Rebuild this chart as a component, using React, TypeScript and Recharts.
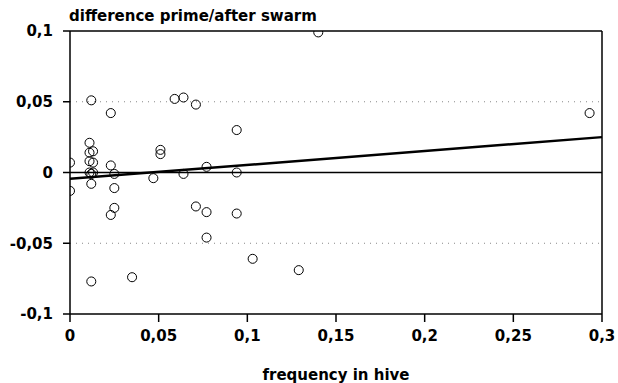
import { ScatterChart, Scatter, XAxis, YAxis, ReferenceLine } from "recharts";

const freqInHive = [
  0, 0, 0.012, 0.023, 0.011, 0.011, 0.013, 0.011, 0.013, 0.011, 0.012, 0.013, 0.012,
  0.023, 0.025, 0.025, 0.025, 0.023, 0.012, 0.035, 0.047, 0.051, 0.051, 0.059, 0.064,
  0.071, 0.064, 0.077, 0.094, 0.094, 0.071, 0.077, 0.094, 0.077, 0.103, 0.129, 0.14, 0.293,
];

const diffPrimeAfter = [
  0.007, -0.013, 0.051, 0.042, 0.021, 0.014, 0.015, 0.008, 0.007, 0.0, -0.001, 0.0, -0.008,
  0.005, -0.001, -0.011, -0.025, -0.03, -0.077, -0.074, -0.004, 0.016, 0.013, 0.052, 0.053,
  0.048, -0.001, 0.004, 0.03, 0.0, -0.024, -0.028, -0.029, -0.046, -0.061, -0.069, 0.099, 0.042,
];

// regression line end points
const fitX = [0, 0.3];
const fitY = [-0.0045, 0.025];

const xTicks = [0, 0.05, 0.1, 0.15, 0.2, 0.25, 0.3];
const yTicks = [-0.1, -0.05, 0, 0.05, 0.1];

const points = freqInHive.map((x, i) => ({ x, y: diffPrimeAfter[i] }));

const font = "'DejaVu Sans', sans-serif";
const fmt = (v: number) => String(v).replace(".", ",");

export default function App() {
  return (
    <div style={{ position: "absolute", left: 0, top: 0, width: 618, height: 383, background: "#fff" }}>
      <div
        style={{
          position: "absolute",
          left: 69,
          top: 7,
          fontFamily: font,
          fontWeight: "bold",
          fontSize: 15,
          color: "#000",
          whiteSpace: "nowrap",
        }}
      >
        difference prime/after swarm
      </div>
      <ScatterChart width={618} height={383} margin={{ top: 31, right: 16, bottom: 29, left: 10 }}>
        <XAxis
          type="number"
          dataKey="x"
          domain={[0, 0.3]}
          ticks={xTicks}
          tickFormatter={fmt}
          allowDataOverflow
          height={40}
          stroke="#000"
          strokeWidth={1.5}
          tickSize={8}
          tickMargin={8}
          tick={{ fill: "#000", fontFamily: font, fontWeight: "bold", fontSize: 15 }}
        />
        <YAxis
          type="number"
          dataKey="y"
          domain={[-0.1, 0.1]}
          ticks={yTicks}
          tickFormatter={fmt}
          allowDataOverflow
          width={60}
          stroke="#000"
          strokeWidth={1.5}
          tickSize={7}
          tickMargin={10}
          tick={{ fill: "#000", fontFamily: font, fontWeight: "bold", fontSize: 15 }}
        />
        <ReferenceLine y={0.05} stroke="#888" strokeDasharray="1 5" />
        <ReferenceLine y={-0.05} stroke="#888" strokeDasharray="1 5" />
        <ReferenceLine y={0} stroke="#000" strokeWidth={1.5} />
        <ReferenceLine y={0.1} stroke="#000" strokeWidth={1.5} />
        <ReferenceLine x={0.3} stroke="#000" strokeWidth={1.5} />
        <ReferenceLine
          segment={[
            { x: fitX[0], y: fitY[0] },
            { x: fitX[1], y: fitY[1] },
          ]}
          stroke="#000"
          strokeWidth={2.5}
        />
        <Scatter data={points} fill="none" stroke="#000" strokeWidth={1} isAnimationActive={false} />
      </ScatterChart>
      <div
        style={{
          position: "absolute",
          left: 0,
          width: 672,
          top: 366,
          textAlign: "center",
          fontFamily: font,
          fontWeight: "bold",
          fontSize: 15,
          color: "#000",
          whiteSpace: "nowrap",
        }}
      >
        frequency in hive
      </div>
    </div>
  );
}
